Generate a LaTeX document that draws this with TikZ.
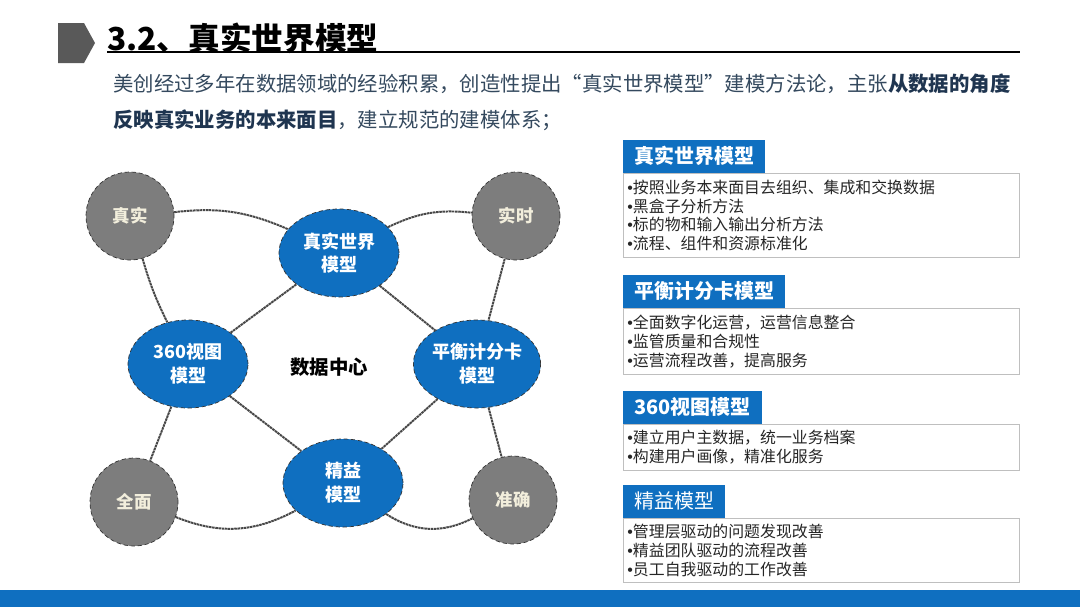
\documentclass[tikz,border=0pt]{standalone}
\usepackage{fontspec}
\setmainfont{Noto Sans CJK SC}
\newfontfamily\puce{Liberation Sans}
\usetikzlibrary{shapes.geometric}
\definecolor{bleu}{HTML}{0F6FC0}
\definecolor{ardoise}{HTML}{34495E}
\definecolor{marine}{HTML}{1F3550}
\definecolor{creme}{HTML}{F2EEDC}
\newcommand{\taille}[2]{\fontsize{#1}{#2}\selectfont}
\newcommand{\pu}{{\puce •}}
\newcommand{\lien}[3]{\draw[lien] (#1) to[#3] (#2)}
\newcommand{\panneau}[6]{\node[boite, minimum height=#3*0.025cm] (#1) at (623,#2) {#6};
	\node[entete, #5] (#1t) at (#1.north west) {#4}}
\tikzset{
	rond/.style={circle, fill=gray!98!black, draw=gray!40!black, densely dashed, line width=0.5pt,
		minimum size=2.2cm, inner sep=0pt, text=creme, font=\taille{12.4}{15}\bfseries},
	ovale/.style={ellipse, fill=bleu, draw=gray!40!black, densely dashed, line width=0.5pt,
		minimum width=3cm, minimum height=2.2cm, inner sep=0pt, text=white, align=center,
		font=\taille{12.8}{17}\bfseries},
	lien/.style={draw=black!72, line width=1.4pt, dash pattern=on 1.8pt off 0.45pt},
	boite/.style={anchor=north west, draw=gray!50, fill=white, line width=0.6pt, minimum width=9.9cm,
		text width=9.7cm, inner xsep=0.1cm, inner ysep=0pt, align=left, text=black!85,
		font=\taille{11.3}{13.3}},
	entete/.style={anchor=south west, fill=bleu, text=white, inner xsep=0.275cm, inner ysep=0pt,
		minimum height=0.825cm, font=\taille{14.2}{16}\bfseries},
	soustitre/.style={anchor=west, text=ardoise, inner sep=0pt, font=\taille{14.5}{17}}
}

\begin{document}
\begin{tikzpicture}[x=0.025cm, y=-0.025cm]
\useasboundingbox (0,0) rectangle (1080,607);
%Title
	\fill[black!65] (58,23) -- (84,23) -- (95,43) -- (84,63) -- (58,63) -- cycle;
	\node[anchor=west, inner sep=0pt, font=\taille{22.5}{26}\bfseries] (titre) at (107,38) {3.2、真实世界模型};
	\draw[line width=1.3pt] (107,52) -- (1020,52);
	\node[soustitre] (ligne1) at (113,84) {美创经过多年在数据领域的经验积累，创造性提出“真实世界模型”建模方法论，主张\textcolor{marine}{\bfseries 从数据的角度}};
	\node[soustitre] (ligne2) at (113,120) {\textcolor{marine}{\bfseries 反映真实业务的本来面目}，建立规范的建模体系；};
%The circles
	\node[rond] (vrai) at (130,216) {真实};
	\node[rond] (temps) at (516,216) {实时};
	\node[rond] (tout) at (134,502) {全面};
	\node[rond] (exact) at (513,500) {准确};
%The models
	\node[ovale] (monde) at (339,253) {真实世界\\模型};
	\node[ovale] (vue) at (188,364) {360视图\\模型};
	\node[ovale] (score) at (477,364) {平衡计分卡\\模型};
	\node[ovale] (maigre) at (343,483) {精益\\模型};
	\node[font=\taille{13.8}{16}\bfseries] (centre) at (329,367) {数据中心};
%Links
	\lien{vrai}{monde}{bend left=15};
	\lien{monde}{temps}{bend left=16};
	\lien{vrai}{vue}{bend right=5};
	\lien{temps}{score}{};
	\lien{monde}{vue}{};
	\lien{monde}{score}{};
	\lien{vue}{tout}{};
	\lien{vue}{maigre}{};
	\lien{score}{maigre}{};
	\lien{score}{exact}{};
	\lien{tout}{maigre}{bend right=25};
	\lien{maigre}{exact}{bend right=30};
%Panels
	\panneau{p1}{173}{84}{真实世界模型}{}{\pu 按照业务本来面目去组织、集成和交换数据\\\pu 黑盒子分析方法\\\pu 标的物和输入输出分析方法\\\pu 流程、组件和资源标准化};
	\panneau{p2}{308}{66}{平衡计分卡模型}{}{\pu 全面数字化运营，运营信息整合\\\pu 监管质量和合规性\\\pu 运营流程改善，提高服务};
	\panneau{p3}{424}{46}{360视图模型}{}{\pu 建立用户主数据，统一业务档案\\\pu 构建用户画像，精准化服务};
	\panneau{p4}{518}{64}{精益模型}{font=\taille{14.2}{16}}{\pu 管理层驱动的问题发现改善\\\pu 精益团队驱动的流程改善\\\pu 员工自我驱动的工作改善};
%Bottom bar
	\fill[bleu] (0,590) rectangle (1080,607);
\end{tikzpicture}
\end{document}
